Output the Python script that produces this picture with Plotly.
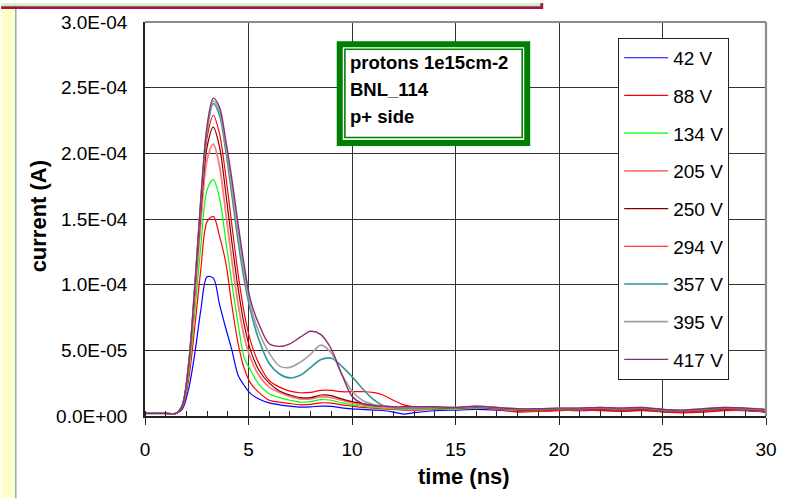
import numpy as np
import plotly.graph_objects as go

# ---- data: transient current vs time, one list per bias voltage (values in µA) ----
TIME_NS = [0, 1, 1.5, 1.8, 2.1, 2.4, 2.7, 3.0, 3.3, 3.6, 3.9, 4.2, 4.5, 4.8, 5.1, 5.5,
           6.0, 6.5, 7.0, 7.5, 8.0, 8.5, 9.0, 9.5, 10.0, 10.5, 11.0, 11.5, 12.0, 12.5,
           13, 14, 15, 16, 17, 18, 19, 20, 21, 22, 23, 24, 25, 26, 27, 28, 29, 30]

I_42V = [2, 2, 2, 5, 20, 47, 81, 106, 105, 85, 67, 50, 31, 23, 17, 13,
         10, 8.5, 7.5, 6.8, 7, 7.5, 7.3, 6.2, 5.5, 5, 4.5, 4.2, 3, 1.5,
         2.5, 4, 4.5, 5, 4.5, 3.5, 4, 4.5, 4, 4.5, 4, 4.5, 3.5, 2.5, 3.5, 4.5, 4, 3]
I_88V = [2, 2, 2, 6, 27, 67, 112, 148, 152, 137, 117, 84, 55, 36, 25, 18,
         12, 10.5, 9.5, 8.5, 8.8, 10, 9.8, 8.5, 7.5, 6.5, 6, 5.5, 5, 4.5,
         4.5, 5, 5, 6, 5, 3, 3.5, 4, 4.5, 4, 3.5, 4, 3, 2.5, 3, 4, 4.5, 3]
I_134V = [2, 2, 2, 7, 31, 78, 130, 172, 180, 166, 134, 101, 70, 44, 35, 24,
          17, 14, 12, 10.5, 11, 12.5, 12, 10, 8.5, 7.5, 6.5, 6, 5.5, 5,
          5, 5.5, 5, 6, 5.5, 4, 4, 4.5, 5, 5, 4.5, 5, 4, 3.5, 4, 5, 4.5, 3.5]
I_205V = [2, 2, 2, 8, 35, 88, 148, 195, 207, 190, 155, 118, 85, 60, 44, 31,
          22, 18, 15, 13, 13, 14.5, 14, 12, 10, 8.5, 7.5, 6.5, 6, 5.5,
          5.5, 6, 5.5, 6.5, 5.5, 4.5, 4.5, 5, 5, 5.5, 5, 5.5, 4.5, 3.5, 4.5, 5.5, 5, 4]
I_250V = [2, 2, 2, 8, 37, 93, 156, 205, 220, 205, 170, 132, 97, 69, 50, 35,
          25, 19, 16, 14, 14, 16, 15.5, 13, 11, 9.5, 8.5, 7.5, 7, 6.5,
          6.5, 6.5, 6, 7, 6, 5, 5, 5.5, 5.5, 6, 5.5, 6, 5, 4, 5, 6, 5.5, 4.5]
I_294V = [2, 2, 2, 8, 38, 96, 162, 212, 229, 215, 183, 145, 108, 78, 57, 40,
          27, 22, 19, 17.7, 18, 19.5, 19.5, 18.5, 18.5, 18.5, 18, 16, 12, 8.5,
          7, 6.5, 6, 6.5, 5.5, 4.5, 4, 4.5, 5, 5, 4.5, 5, 4, 3, 4, 5, 4.5, 3.5]
I_357V = [2, 2, 2, 8, 38, 97, 164, 217, 238, 229, 202, 168, 133, 103, 80, 58,
          40, 32, 29, 31, 37, 43, 44, 38, 30, 21, 13, 8, 6.5, 6,
          6, 6.5, 6, 7, 6, 5, 5, 5.5, 5.5, 6, 5.5, 6, 4.5, 4, 5, 6, 5.5, 4.5]
I_395V = [2, 2, 2, 8, 38, 97, 165, 219, 240, 232, 206, 174, 140, 109, 84, 64,
          48, 38, 37, 41, 47, 54, 48, 32, 19, 12, 9, 7.5, 7, 6.5,
          6.5, 7, 6.5, 7.5, 6.5, 5.5, 5.5, 6, 6, 6.5, 6, 6.5, 5, 4.5, 5.5, 6.5, 6, 5]
I_417V = [2, 2, 2, 8, 38, 97, 166, 221, 242, 235, 210, 180, 146, 114, 88, 70,
          55, 53, 55, 60, 64.5, 62, 51, 32, 15, 9.5, 8, 7.5, 7, 7,
          7, 7, 6.5, 7.5, 6.5, 5.5, 5.5, 6, 6, 6.5, 6, 6.5, 5, 4.5, 5.5, 6.5, 6, 5]

SERIES = [I_42V, I_88V, I_134V, I_205V, I_250V, I_294V, I_357V, I_395V, I_417V]
SERIES_NAMES = ["42 V", "88 V", "134 V", "205 V", "250 V", "294 V", "357 V", "395 V", "417 V"]
SERIES_COLORS = ["#0000FF", "#FF0000", "#00FF00", "#FF7878", "#800000",
                 "#FF0000", "#2E9696", "#A0A0A0", "#8E2C70"]
SERIES_WIDTHS = [1.2, 1.2, 1.2, 1.8, 1.2, 1.2, 1.6, 1.6, 1.4]

Y_TICKS = [0, 5e-5, 1e-4, 1.5e-4, 2e-4, 2.5e-4, 3e-4]
Y_TICK_TEXT = ["0.0E+00", "5.0E-05", "1.0E-04", "1.5E-04", "2.0E-04", "2.5E-04", "3.0E-04"]
X_TICKS = [0, 5, 10, 15, 20, 25, 30]

INFO_LINES = ["protons 1e15cm-2", "BNL_114", "p+ side"]

# ---- page geometry ----
W, H = 789, 499
ML, MR, MT, MB = 145, 18, 19, 83
PW, PH = W - ML - MR, H - MT - MB


def px_x(px):
    return (px - ML) / PW


def px_y(py):
    return (H - MB - py) / PH


FONT = "Liberation Sans, Arial, sans-serif"

fig = go.Figure()
t = np.array(TIME_NS)
for vals, name, col, lw in zip(SERIES, SERIES_NAMES, SERIES_COLORS, SERIES_WIDTHS):
    fig.add_trace(go.Scatter(
        x=t, y=np.array(vals) * 1e-6, name=name, mode="lines",
        line=dict(color=col, width=lw, shape="spline", smoothing=0.9),
        legendgroup=name,
    ))

shapes = [
    # pale side strip and its edge
    dict(type="rect", xref="paper", yref="paper", x0=px_x(0), x1=px_x(14),
         y0=px_y(H), y1=px_y(0), fillcolor="#FFFFCC", line=dict(width=0), layer="below"),
    dict(type="line", xref="paper", yref="paper", x0=px_x(14.8), x1=px_x(14.8),
         y0=px_y(H), y1=px_y(0), line=dict(color="#6E9C9C", width=1.2)),
    # header band at the very top
    dict(type="rect", xref="paper", yref="paper", x0=px_x(0), x1=px_x(545),
         y0=px_y(3), y1=px_y(0), fillcolor="#CCF2C4", line=dict(width=0)),
    dict(type="line", xref="paper", yref="paper", x0=px_x(0), x1=px_x(545),
         y0=px_y(4.6), y1=px_y(4.6), line=dict(color="#A3163F", width=2.8)),
    dict(type="line", xref="paper", yref="paper", x0=px_x(545), x1=px_x(545),
         y0=px_y(6), y1=px_y(0), line=dict(color="#A3163F", width=2.8)),
    # grey top/right frame of the plot area
    dict(type="line", xref="paper", yref="paper", x0=0, x1=1, y0=1, y1=1,
         line=dict(color="#8C8C8C", width=2), layer="above"),
    dict(type="line", xref="paper", yref="paper", x0=1, x1=1, y0=0, y1=1,
         line=dict(color="#8C8C8C", width=2.2), layer="above"),
    # info box: thick green frame with a thin inner green rule
    dict(type="rect", xref="paper", yref="paper", x0=px_x(341.3), x1=px_x(530.3),
         y0=px_y(140.8), y1=px_y(41.3), fillcolor="white",
         line=dict(color="#008000", width=6), layer="above"),
    dict(type="rect", xref="paper", yref="paper", x0=px_x(346.5), x1=px_x(525.2),
         y0=px_y(135.4), y1=px_y(46.5),
         line=dict(color="#008000", width=1.6), layer="above"),
]

annotations = []
for i, txt in enumerate(INFO_LINES):
    annotations.append(dict(
        text=f"<b>{txt}</b>", xref="paper", yref="paper",
        x=px_x(350), y=px_y(60 + 27 * i), xanchor="left", yanchor="middle",
        showarrow=False, font=dict(family=FONT, size=18.5, color="black"),
    ))
annotations.append(dict(
    text="<b>time (ns)</b>", xref="paper", yref="paper", x=px_x(467), y=px_y(477),
    xanchor="center", yanchor="middle", showarrow=False,
    font=dict(family=FONT, size=22, color="black"),
))
annotations.append(dict(
    text="<b>current (A)</b>", xref="paper", yref="paper", x=px_x(38), y=px_y(215),
    xanchor="center", yanchor="middle", textangle=-90, showarrow=False,
    font=dict(family=FONT, size=22, color="black"),
))

fig.update_layout(
    width=W, height=H,
    margin=dict(l=ML, r=MR, t=MT, b=MB, pad=0),
    paper_bgcolor="white", plot_bgcolor="white",
    font=dict(family=FONT, size=19, color="black"),
    showlegend=True,
    legend=dict(
        x=px_x(622), y=px_y(35), xanchor="left", yanchor="top",
        bgcolor="white", bordercolor="#222222", borderwidth=1,
        font=dict(family=FONT, size=19, color="black"),
        tracegroupgap=10, itemwidth=44,
    ),
    shapes=shapes,
    annotations=annotations,
    xaxis=dict(
        range=[0, 30], tickvals=X_TICKS, ticks="outside", ticklen=7, tickwidth=1,
        tickcolor="#222222", showline=True, linecolor="#222222", linewidth=1.5,
        showgrid=True, gridcolor="#333333", gridwidth=1, zeroline=False,
        minor=dict(dtick=1, ticks="inside", ticklen=5, tickcolor="#222222", showgrid=False),
        tickfont=dict(family=FONT, size=19), ticklabelstandoff=8,
    ),
    yaxis=dict(
        range=[0, 3e-4], tickvals=Y_TICKS, ticktext=Y_TICK_TEXT,
        ticks="inside", ticklen=5, tickcolor="#222222",
        showline=True, linecolor="#222222", linewidth=1.5,
        showgrid=True, gridcolor="#333333", gridwidth=1, zeroline=False,
        tickfont=dict(family=FONT, size=19), ticklabelstandoff=12,
    ),
)

fig.write_html("out.html")
